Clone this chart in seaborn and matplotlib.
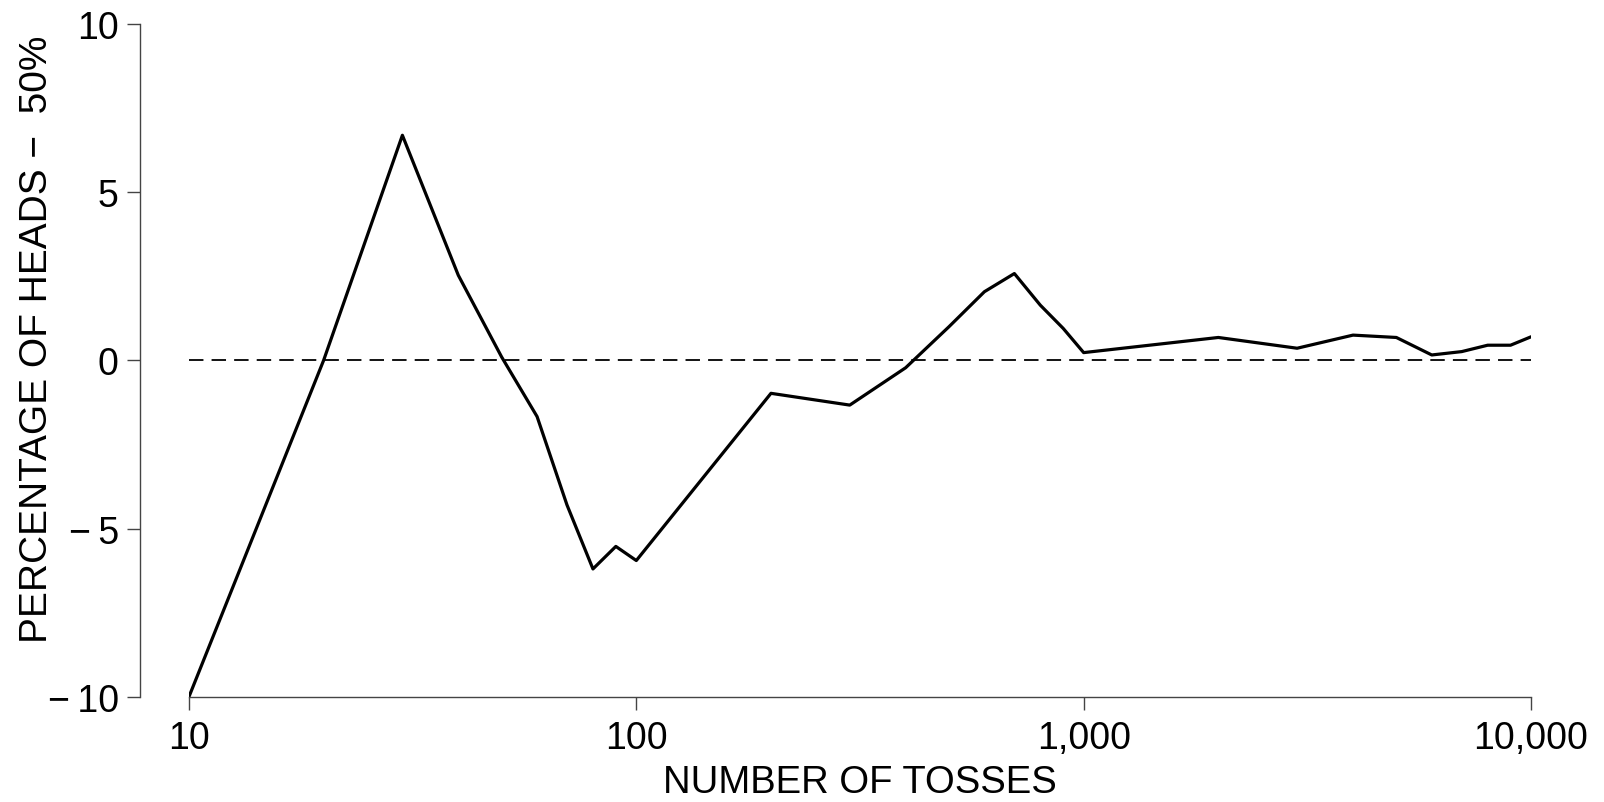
import matplotlib
matplotlib.use("Agg")
import matplotlib.pyplot as plt
import seaborn as sns
import pandas as pd
from matplotlib.ticker import FixedLocator, FuncFormatter, NullLocator

# ==========================
# datos
# ==========================
tosses = [10, 20, 30, 40, 50, 60, 70, 80, 90, 100,
          200, 300, 400, 500, 600, 700, 800, 900, 1000,
          2000, 3000, 4000, 5000, 6000, 7000, 8000, 9000, 10000]
heads_minus_50 = [-10.0, 0.0, 6.69, 2.53, 0.1, -1.67, -4.30, -6.20, -5.53, -5.95,
                  -0.98, -1.33, -0.22, 1.0, 2.04, 2.58, 1.64, 0.95, 0.23,
                  0.68, 0.36, 0.75, 0.68, 0.16, 0.26, 0.45, 0.45, 0.70]

x_ticks = [10, 100, 1000, 10000]
y_ticks = [-10, -5, 0, 5, 10]

df = pd.DataFrame({"tosses": tosses, "pct": heads_minus_50})

sns.set_theme(style="ticks")
plt.rcParams["font.family"] = ["Liberation Sans", "DejaVu Sans"]
plt.rcParams["axes.labelcolor"] = "black"
plt.rcParams["text.color"] = "black"

MINUS = "\u2212"

fig = plt.figure(figsize=(16.04, 8.03), dpi=100)
ax = fig.add_axes([0.1178, 0.131, 0.8367, 0.838])

sns.lineplot(data=df, x="tosses", y="pct", color="black", linewidth=2.3, ax=ax)
ax.axhline(0, color="black", linewidth=1.3, linestyle=(0, (8, 4.5)))

ax.set_xscale("log")
ax.set_xlim(10, 10000)
ax.set_ylim(-10, 10)
ax.xaxis.set_major_locator(FixedLocator(x_ticks))
ax.xaxis.set_minor_locator(NullLocator())
ax.xaxis.set_major_formatter(FuncFormatter(lambda v, p: f"{int(round(v)):,}"))
ax.yaxis.set_major_locator(FixedLocator(y_ticks))
ax.yaxis.set_major_formatter(FuncFormatter(lambda v, p: f"{int(v)}".replace("-", MINUS + "\u2009")))

ax.tick_params(axis="both", labelsize=27, colors="#444444", labelcolor="black",
               length=9.5, width=1.0)
ax.tick_params(axis="y", pad=6)
ax.tick_params(axis="x", pad=7)

for s in ["left", "bottom"]:
    ax.spines[s].set_color("#444444")
    ax.spines[s].set_linewidth(1.0)
sns.despine(ax=ax, offset={"left": 35})

ax.set_xlabel("NUMBER OF TOSSES", fontsize=27.5)
ax.set_ylabel(f"PERCENTAGE OF HEADS {MINUS}  50%", fontsize=28)
ax.xaxis.set_label_coords(0.5, -0.100, transform=ax.transAxes)
ax.yaxis.set_label_coords(-0.100, 0.533, transform=ax.transAxes)
ax.xaxis.label.set_va("top")

fig.savefig("out.png", dpi=100)
